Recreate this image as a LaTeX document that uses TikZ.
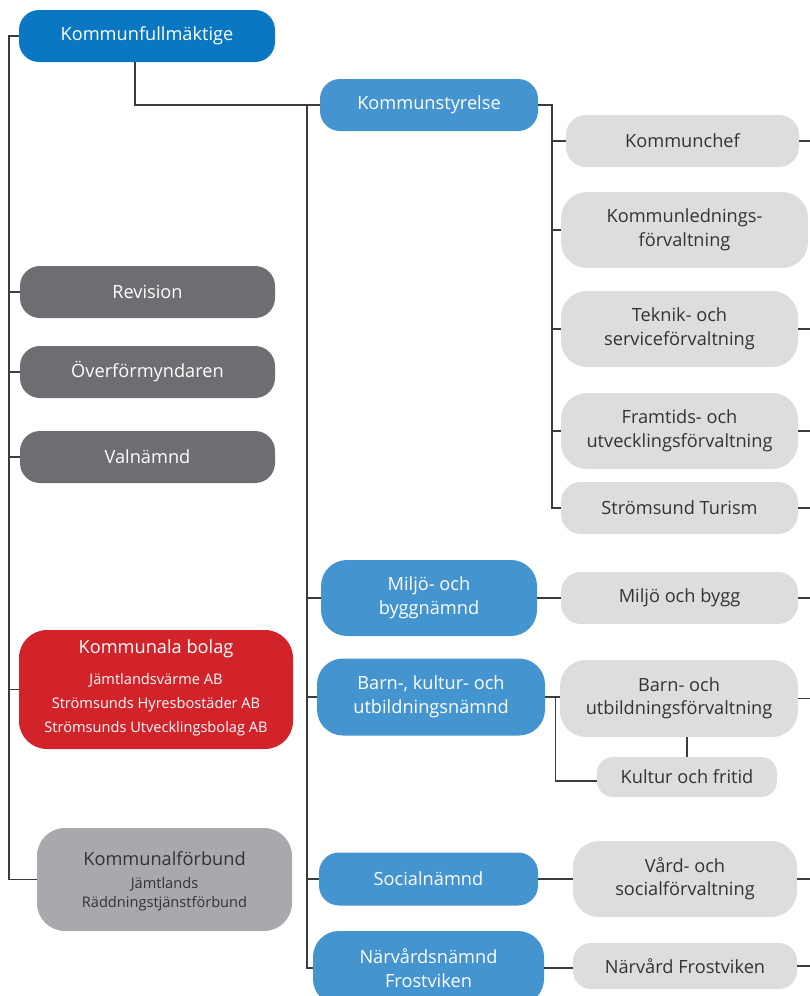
\documentclass[tikz,border=0pt]{standalone}
\usepackage{fontspec}
\setmainfont{Open Sans}
\definecolor{kfblue}{HTML}{0A77C2}
\definecolor{ltblue}{HTML}{4394CF}
\definecolor{dkgray}{HTML}{6D6E71}
\definecolor{ltgray}{HTML}{DCDDDF}
\definecolor{mdgray}{HTML}{A7A9AC}
\definecolor{bolred}{HTML}{D2232A}
\definecolor{txtgray}{HTML}{333333}
\definecolor{linegray}{HTML}{3C3C3C}
\tikzset{
  sz/.style 2 args={minimum width=#1pt, minimum height=#2pt},
  base/.style={rectangle, rounded corners=20pt, inner sep=0pt, align=center,
    font=\fontsize{18.2}{23.5}\selectfont},
  bigblue/.style={base, fill=kfblue, text=white},
  blue/.style={base, fill=ltblue, text=white},
  dark/.style={base, fill=dkgray, text=white},
  light/.style={base, fill=ltgray, text=txtgray},
  conn/.style={draw=linegray, line width=1.1pt},
  small/.style={font=\fontsize{14.6}{24}\selectfont}
}
\begin{document}
\begin{tikzpicture}[x=1pt,y=-1pt]
\useasboundingbox (0,0) rectangle (810,996);
\clip (0,0) rectangle (810,996);
\coordinate (TL) at (9,0);
\coordinate (TM) at (307,0);
\coordinate (TR) at (552,0);
\coordinate (RE) at (810,0);
% left column
\node[bigblue, sz={256}{52}] (kf) at (147,36) {Kommunfullmäktige};
\node[dark, sz={255}{52}] (rev) at (147.5,292) {Revision};
\node[dark, sz={255}{52}] (ovf) at (147.5,372) {Överförmyndaren};
\node[dark, sz={255}{52}] (val) at (147.5,457) {Valnämnd};
\node[base, fill=bolred, text=white, sz={274}{119}, rounded corners=28pt] (kb) at (156,689.5) {};
\node[text=white, font=\fontsize{18.2}{23}\selectfont] (kbt) at (156,649) {Kommunala bolag};
\node[text=white, small, align=center, anchor=north, inner sep=0pt] (kbl) at (156,673) {Jämtlandsvärme AB\\Strömsunds Hyresbostäder AB\\Strömsunds Utvecklingsbolag AB};
\node[base, fill=mdgray, sz={255}{103}, rounded corners=28pt] (kfb) at (164.5,879.5) {};
\node[text=txtgray, font=\fontsize{18.2}{23}\selectfont] (kfbt) at (164.5,859) {Kommunalförbund};
\node[text=txtgray, font=\fontsize{14.6}{19.5}\selectfont, align=center, anchor=north, inner sep=0pt] (kfbl) at (164.5,877) {Jämtlands\\Räddningstjänstförbund};
% middle column
\node[blue, sz={218}{52}] (ks) at (429,105) {Kommunstyrelse};
\node[blue, sz={216}{76}, rounded corners=26pt] (mbn) at (429,598) {Miljö- och\\byggnämnd};
\node[blue, sz={228}{77}, rounded corners=26pt] (bku) at (431,697) {Barn-, kultur- och\\utbildningsnämnd};
\node[blue, sz={219}{53}] (sn) at (428.5,879) {Socialnämnd};
\node[blue, sz={231}{74}, rounded corners=26pt] (nvn) at (428.5,968) {Närvårdsnämnd\\Frostviken};
% right column
\node[light, sz={233}{52}] (kc) at (682.5,141) {Kommunchef};
\node[light, sz={247}{76}, rounded corners=26pt] (kl) at (684.5,230) {Kommunlednings-\\förvaltning};
\node[light, sz={237}{76}, rounded corners=26pt] (tek) at (679.5,329) {Teknik- och\\serviceförvaltning};
\node[light, sz={237}{76}, rounded corners=26pt] (fr) at (679.5,431) {Framtids- och\\utvecklingsförvaltning};
\node[light, sz={237}{52}] (st) at (679.5,508) {Strömsund Turism};
\node[light, sz={237}{52}] (mb) at (679.5,598) {Miljö och bygg};
\node[light, sz={238}{77}, rounded corners=26pt] (buf) at (679,698.5) {Barn- och\\utbildningsförvaltning};
\node[light, sz={180}{40}, rounded corners=16pt] (kof) at (687,777) {Kultur och fritid};
\node[light, sz={224}{76}, rounded corners=26pt] (vsf) at (685,879) {Vård- och\\socialförvaltning};
\node[light, sz={224}{46}, rounded corners=18pt] (nvf) at (685,966) {Närvård Frostviken};
% connectors: left trunk
\draw[conn] (kf.west) -- (kf.west -| TL) |- (kfb.west);
\draw[conn] (rev.west) -- (rev.west -| TL);
\draw[conn] (ovf.west) -- (ovf.west -| TL);
\draw[conn] (val.west) -- (val.west -| TL);
\draw[conn] (kb.west) -- (kb.west -| TL);
% kf to ks and middle trunk
\draw[conn] ([xshift=-12pt]kf.south) |- (ks.west);
\draw[conn] (ks.west -| TM) |- (nvn.west);
\draw[conn] (mbn.west) -- (mbn.west -| TM);
\draw[conn] (bku.west) -- (bku.west -| TM);
\draw[conn] (sn.west) -- (sn.west -| TM);
% ks branch
\draw[conn] (ks.east) -- (ks.east -| TR) |- (st.west);
\draw[conn] (kc.west) -- (kc.west -| TR);
\draw[conn] (kl.west) -- (kl.west -| TR);
\draw[conn] (tek.west) -- (tek.west -| TR);
\draw[conn] (fr.west) -- (fr.west -| TR);
% other branches
\draw[conn] (mbn.east) -- (mbn.east -| mb.west);
\draw[conn] (bku.east) -- (bku.east -| buf.west);
\draw[conn] ([xshift=10pt]bku.east) |- ([yshift=-4pt]kof.west);
\draw[conn] (kof.north) -- (kof.north |- buf.south);
\draw[conn] (sn.east) -- (sn.east -| vsf.west);
\draw[conn] (nvn.east) -- (nvn.east -| nvf.west);
% right exits
\draw[conn] (kc.east) -- (kc.east -| RE);
\draw[conn] (tek.east) -- (tek.east -| RE);
\draw[conn] (fr.east) -- (fr.east -| RE);
\draw[conn] (st.east) -- (st.east -| RE);
\draw[conn] (mb.east) -- (mb.east -| RE);
\draw[conn] (buf.east) -- (buf.east -| RE);
\draw[conn] (vsf.east) -- (vsf.east -| RE);
\draw[conn] (nvf.east) -- (nvf.east -| RE);
\end{tikzpicture}
\end{document}
